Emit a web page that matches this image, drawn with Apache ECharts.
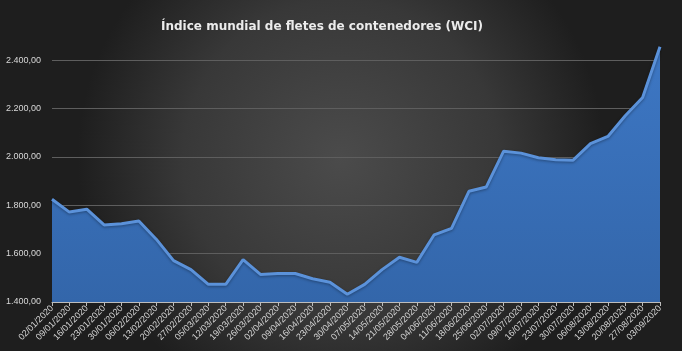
<!DOCTYPE html>
<html>
<head>
<meta charset="utf-8">
<script src="https://cdn.jsdelivr.net/npm/echarts@6/dist/echarts.min.js"></script>
<style>
  html, body { margin: 0; padding: 0; }
  #chart { width: 682px; height: 351px; }
</style>
</head>
<body>
<div id="chart"></div>
<script>
const dates = [
  '02/01/2020','09/01/2020','16/01/2020','23/01/2020','30/01/2020',
  '06/02/2020','13/02/2020','20/02/2020','27/02/2020',
  '05/03/2020','12/03/2020','19/03/2020','26/03/2020',
  '02/04/2020','09/04/2020','16/04/2020','23/04/2020','30/04/2020',
  '07/05/2020','14/05/2020','21/05/2020','28/05/2020',
  '04/06/2020','11/06/2020','18/06/2020','25/06/2020',
  '02/07/2020','09/07/2020','16/07/2020','23/07/2020','30/07/2020',
  '06/08/2020','13/08/2020','20/08/2020','27/08/2020','03/09/2020'
];
const wci = [
  1825, 1772, 1784, 1719, 1724,
  1735, 1660, 1571, 1534,
  1473, 1473, 1575, 1514,
  1518, 1518, 1496, 1482, 1432,
  1473, 1534, 1585, 1564,
  1678, 1705, 1858, 1876,
  2024, 2016, 1997, 1989, 1987,
  2055, 2085, 2171, 2246, 2456
];

const el = document.getElementById('chart');
const chart = echarts.init(el);

// es-ES number style: 2.400,00
const fmt = v => {
  if (v > 2400) return '';
  const s = Math.round(v).toString().replace(/\B(?=(\d{3})+(?!\d))/g, '.');
  return s + ',00';
};

chart.setOption({
  backgroundColor: {
    type: 'radial', x: 0.5, y: 0.45, r: 0.75,
    colorStops: [
      { offset: 0, color: '#4b4b4b' },
      { offset: 0.6, color: '#383838' },
      { offset: 1, color: '#1e1e1e' }
    ]
  },
  title: {
    text: 'Índice mundial de fletes de contenedores (WCI)',
    left: 156,
    top: 16,
    textStyle: {
      color: '#ececec',
      fontFamily: 'DejaVu Sans',
      fontSize: 12,
      fontWeight: 'bold'
    }
  },
  // top edge is the (hidden) 2.600 line so the last point can rise past 2.400
  grid: { left: 52, right: 22, top: 12, bottom: 49 },
  xAxis: {
    type: 'category',
    data: dates,
    boundaryGap: false,
    axisLine: { lineStyle: { color: '#bdbdbd', width: 1 } },
    axisTick: { show: true, alignWithLabel: true, length: 4, lineStyle: { color: '#bdbdbd' } },
    axisLabel: {
      interval: 0,
      rotate: 45,
      color: '#d4d4d4',
      fontFamily: 'Liberation Sans',
      fontSize: 9,
      margin: 5
    }
  },
  yAxis: {
    type: 'value',
    min: 1400,
    max: 2600,
    interval: 200,
    axisLine: { show: false },
    axisTick: { show: false },
    splitLine: { showMaxLine: false, lineStyle: { color: '#5e5e5e', width: 1 } },
    axisLabel: {
      color: '#d8d8d8',
      fontFamily: 'Liberation Sans',
      fontSize: 9,
      margin: 11,
      formatter: fmt
    }
  },
  series: [{
    type: 'line',
    data: wci,
    symbol: 'none',
    lineStyle: {
      color: '#5b92da',
      width: 3,
      shadowColor: 'rgba(0,0,0,0.35)',
      shadowBlur: 3,
      shadowOffsetY: 1
    },
    areaStyle: {
      opacity: 1,
      color: {
        type: 'linear', x: 0, y: 0, x2: 0, y2: 1,
        colorStops: [
          { offset: 0, color: '#3d77c4' },
          { offset: 1, color: '#3366aa' }
        ]
      }
    }
  }]
});

window.onresize = () => chart.resize();
</script>
</body>
</html>
